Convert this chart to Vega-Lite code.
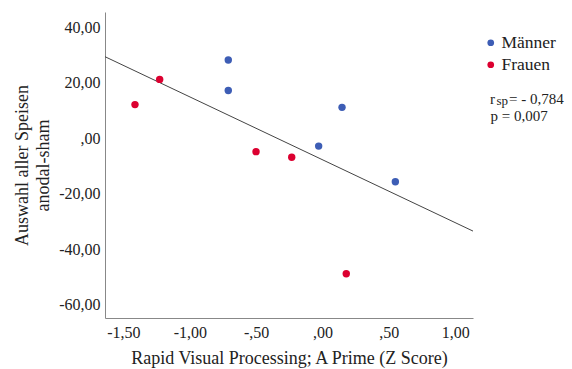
{
  "$schema": "https://vega.github.io/schema/vega-lite/v6.json",
  "width": 368,
  "height": 306,
  "autosize": "none",
  "padding": {"left": 105, "top": 12, "right": 99, "bottom": 51},
  "background": "white",
  "config": {
    "font": "Liberation Serif",
    "view": {"stroke": null},
    "axis": {
      "grid": false,
      "ticks": false,
      "tickSize": 0,
      "domainColor": "#888888",
      "domainWidth": 1,
      "labelFont": "Liberation Serif",
      "labelFontSize": 16,
      "labelColor": "#222222",
      "titleFont": "Liberation Serif",
      "titleFontSize": 18,
      "titleFontWeight": "normal",
      "titleColor": "#222222"
    },
    "legend": {
      "labelFont": "Liberation Serif",
      "labelFontSize": 17.5,
      "labelColor": "#222222"
    }
  },
  "datasets": {
    "points": [
      {"x": -1.413, "y": 12.2, "Geschlecht": "Frauen"},
      {"x": -1.227, "y": 21.3, "Geschlecht": "Frauen"},
      {"x": -0.710, "y": 28.3, "Geschlecht": "Männer"},
      {"x": -0.710, "y": 17.3, "Geschlecht": "Männer"},
      {"x": -0.501, "y": -4.8, "Geschlecht": "Frauen"},
      {"x": -0.232, "y": -6.8, "Geschlecht": "Frauen"},
      {"x": -0.029, "y": -2.8, "Geschlecht": "Männer"},
      {"x": 0.147, "y": 11.2, "Geschlecht": "Männer"},
      {"x": 0.179, "y": -48.9, "Geschlecht": "Frauen"},
      {"x": 0.549, "y": -15.7, "Geschlecht": "Männer"}
    ],
    "fit": [
      {"x": -1.639, "y": 29.5},
      {"x": 1.134, "y": -33.5}
    ],
    "r": [{"x": 1.262, "y": 12.3, "t": "r"}],
    "sp": [{"x": 1.311, "y": 11.9, "t": "sp"}],
    "rval": [{"x": 1.405, "y": 12.3, "t": "= - 0,784"}],
    "p": [{"x": 1.266, "y": 6.25, "t": "p = 0,007"}]
  },
  "layer": [
    {
      "data": {"name": "fit"},
      "mark": {"type": "line", "color": "#444444", "strokeWidth": 1},
      "encoding": {
        "x": {
          "field": "x", "type": "quantitative",
          "scale": {"domain": [-1.639, 1.134], "nice": false, "zero": false},
          "axis": {
            "values": [-1.5, -1, -0.5, 0, 0.5, 1],
            "labelExpr": "replace(replace(replace(format(datum.value, '.2f'), '−', '-'), '.', ','), regexp('^(-?)0,'), '$1,')",
            "labelPadding": 6,
            "titlePadding": 9,
            "title": "Rapid Visual Processing; A Prime (Z Score)"
          }
        },
        "y": {
          "field": "y", "type": "quantitative",
          "scale": {"domain": [-64.9, 45.65], "nice": false, "zero": false},
          "axis": {
            "values": [-60, -40, -20, 0, 20, 40],
            "labelExpr": "replace(replace(replace(format(datum.value, '.2f'), '−', '-'), '.', ','), regexp('^(-?)0,'), '$1,')",
            "labelPadding": 5,
            "titlePadding": 6,
            "titleLineHeight": 21,
            "title": ["Auswahl aller Speisen", "anodal-sham"]
          }
        }
      }
    },
    {
      "data": {"name": "points"},
      "mark": {"type": "circle", "size": 55, "opacity": 1},
      "encoding": {
        "x": {"field": "x", "type": "quantitative"},
        "y": {"field": "y", "type": "quantitative"},
        "color": {
          "field": "Geschlecht", "type": "nominal",
          "scale": {"domain": ["Männer", "Frauen"], "range": ["#3D5DB5", "#DC0030"]},
          "legend": {
            "title": null,
            "orient": "none",
            "legendX": 377,
            "legendY": 22,
            "symbolType": "circle",
            "symbolSize": 45,
            "labelOffset": 2,
            "rowPadding": 3,
            "padding": 0
          }
        }
      }
    },
    {
      "data": {"name": "r"},
      "mark": {"type": "text", "align": "left", "baseline": "alphabetic", "fontSize": 15, "font": "Liberation Serif", "color": "#222222"},
      "encoding": {"x": {"field": "x", "type": "quantitative"}, "y": {"field": "y", "type": "quantitative"}, "text": {"field": "t"}}
    },
    {
      "data": {"name": "sp"},
      "mark": {"type": "text", "align": "left", "baseline": "alphabetic", "fontSize": 13, "font": "Liberation Serif", "color": "#222222"},
      "encoding": {"x": {"field": "x", "type": "quantitative"}, "y": {"field": "y", "type": "quantitative"}, "text": {"field": "t"}}
    },
    {
      "data": {"name": "rval"},
      "mark": {"type": "text", "align": "left", "baseline": "alphabetic", "fontSize": 15, "font": "Liberation Serif", "color": "#222222"},
      "encoding": {"x": {"field": "x", "type": "quantitative"}, "y": {"field": "y", "type": "quantitative"}, "text": {"field": "t"}}
    },
    {
      "data": {"name": "p"},
      "mark": {"type": "text", "align": "left", "baseline": "alphabetic", "fontSize": 15, "font": "Liberation Serif", "color": "#222222"},
      "encoding": {"x": {"field": "x", "type": "quantitative"}, "y": {"field": "y", "type": "quantitative"}, "text": {"field": "t"}}
    }
  ]
}
